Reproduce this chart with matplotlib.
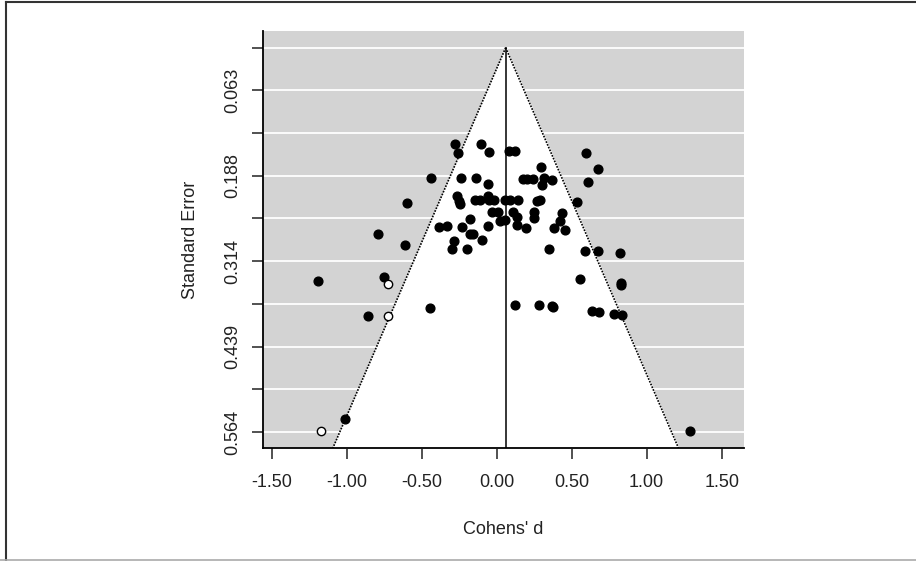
import numpy as np
import matplotlib.pyplot as plt
from matplotlib.lines import Line2D

plt.rcParams['font.family'] = ['Liberation Sans', 'DejaVu Sans']

# observed studies (Cohen's d, standard error)
d_obs = [-0.278, -0.256, -0.105, -0.049, 0.085, 0.122, 0.593, 0.677, 0.293,
         -0.438, -0.240, -0.140, -0.058, 0.177, 0.200, 0.244, 0.315, 0.304,
         0.371, 0.607, -0.600, -0.267, -0.251, -0.245, -0.143, -0.111, -0.060,
         -0.053, -0.018, 0.057, 0.092, 0.139, 0.271, 0.289, 0.533, -0.033,
         0.011, 0.107, 0.135, 0.249, 0.249, 0.437, 0.422, 0.022, 0.057,
         -0.178, -0.383, -0.333, -0.233, -0.056, 0.133, 0.193, 0.384, 0.455,
         -0.178, -0.156, -0.285, -0.096, -0.300, -0.198, -0.789, -0.611, 0.349,
         0.591, 0.677, 0.822, -1.189, -0.749, 0.555, 0.827, 0.827, -0.445,
         0.120, 0.280, 0.371, 0.375, -0.856, 0.633, 0.684, 0.782, 0.837,
         -1.009, 1.287]
se_obs = [0.141, 0.154, 0.141, 0.153, 0.151, 0.152, 0.154, 0.178, 0.175,
          0.192, 0.192, 0.192, 0.200, 0.193, 0.193, 0.193, 0.192, 0.201,
          0.195, 0.197, 0.228, 0.218, 0.225, 0.230, 0.223, 0.223, 0.218,
          0.223, 0.223, 0.223, 0.223, 0.223, 0.225, 0.223, 0.227, 0.242,
          0.241, 0.241, 0.248, 0.241, 0.250, 0.243, 0.254, 0.254, 0.253,
          0.252, 0.263, 0.262, 0.263, 0.262, 0.261, 0.265, 0.265, 0.267,
          0.274, 0.274, 0.284, 0.283, 0.295, 0.295, 0.273, 0.289, 0.296,
          0.298, 0.299, 0.302, 0.343, 0.337, 0.340, 0.346, 0.349, 0.382,
          0.378, 0.378, 0.380, 0.381, 0.394, 0.386, 0.388, 0.391, 0.393,
          0.545, 0.563]

# imputed studies (trim and fill)
d_fill = [-0.723, -0.723, -1.169]
se_fill = [0.347, 0.394, 0.563]

estimate = 0.06
se_max = 0.5643
yticks = np.linspace(0, se_max, 10)
ylabels = ['' if i % 2 == 0 else '%.3f' % v for i, v in enumerate(yticks)]
xticks = [-1.5, -1.0, -0.5, 0.0, 0.5, 1.0, 1.5]
xlabels = ['-1.50', '-1.00', '-0.50', '0.00', '0.50', '1.00', '1.50']

fig = plt.figure(figsize=(9.16, 5.61), dpi=100)
ax = fig.add_axes([263/916, 1-448/561, 481/916, 417/561])

ylo, yhi = -0.0245, 0.5878
xlo, xhi = -1.558, 1.649
ax.set_xlim(xlo, xhi)
ax.set_ylim(yhi, ylo)

ax.set_facecolor('#d3d3d3')
for y in yticks:
    ax.axhline(y, color='white', lw=1.3, zorder=1)

# funnel region
se_line = np.array([0, yhi])
ax.fill_betweenx(se_line, estimate - 1.96*se_line, estimate + 1.96*se_line,
                 color='white', zorder=2)
ax.plot(estimate - 1.96*se_line, se_line, color='black', ls=(0, (1, 0.8)), lw=1.2, zorder=3)
ax.plot(estimate + 1.96*se_line, se_line, color='black', ls=(0, (1, 0.8)), lw=1.2, zorder=3)
ax.plot([estimate, estimate], [0, yhi], color='black', lw=1.1, zorder=3)

ax.plot(d_obs, se_obs, 'o', color='black', ms=6.3, zorder=4)
ax.plot(d_fill, se_fill, 'o', mfc='white', mec='black', mew=1.0, ms=6.0, zorder=4)

ax.spines['top'].set_visible(False)
ax.spines['right'].set_visible(False)
ax.spines['left'].set_linewidth(1.3)
ax.spines['bottom'].set_linewidth(1.3)

ax.set_xticks(xticks)
ax.set_xticklabels(xlabels)
ax.set_yticks(yticks)
ax.set_yticklabels(ylabels, rotation=90, va='center')
ax.tick_params(axis='both', direction='out', length=8, width=1.1, labelsize=13,
               colors='#222222')
ax.tick_params(axis='x', pad=11)
ax.tick_params(axis='y', pad=8)

ax.set_xlabel("Cohens' d", fontsize=13, labelpad=21, color='#222222')
ax.set_ylabel('Standard Error', fontsize=13, labelpad=18, color='#222222')

# outer frame of the image
fig.add_artist(Line2D([5.5/916, 5.5/916], [0, 1 - 2/561], color='#333333', lw=1.5))
fig.add_artist(Line2D([5.5/916, 1], [1 - 2/561, 1 - 2/561], color='#333333', lw=1.5))
fig.add_artist(Line2D([0, 1], [1/561, 1/561], color='#aaaaaa', lw=1.2))

fig.savefig('out.png', dpi=100)
